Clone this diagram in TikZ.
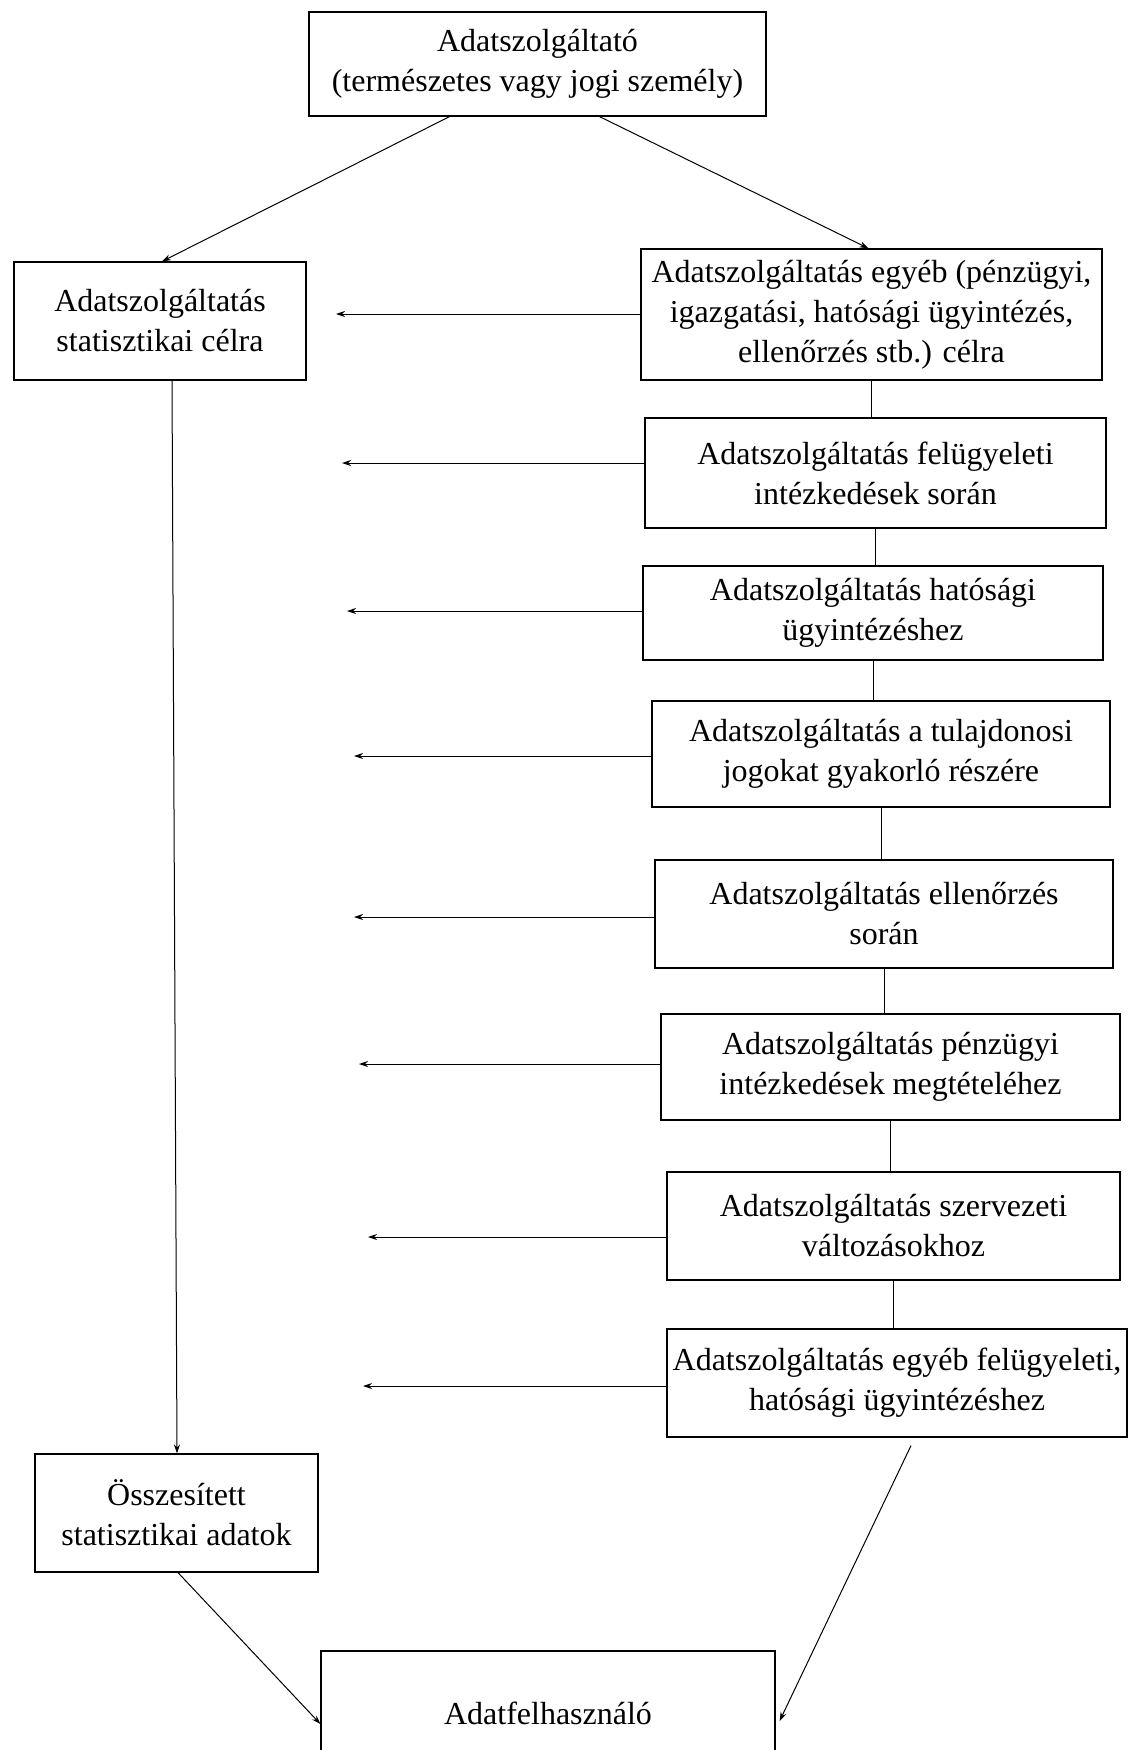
\documentclass[tikz,border=0pt]{standalone}
\usepackage{fontspec}
\setmainfont{Liberation Serif}
\usetikzlibrary{arrows.meta,calc}
\begin{document}
\begin{tikzpicture}[x=1pt,y=-1pt,
  box/.style={draw, line width=1.2pt, align=center, inner sep=0pt, font=\fontsize{32}{40}\selectfont},
  arr/.style={-{Stealth[length=9pt,width=6pt]}, line width=1pt},
  ln/.style={line width=1pt}]
\useasboundingbox[fill=white] (0,0) rectangle (1131,1750);
% nodes
\node[box, minimum width=457pt, minimum height=104pt] (top) at (537.5,64) {Adatszolgáltató\\(természetes vagy jogi személy)};
\node[box, minimum width=292pt, minimum height=118pt] (stat) at (160,321) {Adatszolgáltatás\\statisztikai célra};
\node[box, minimum width=461pt, minimum height=131pt] (b1) at (871.5,314.5) {Adatszolgáltatás egyéb (pénzügyi,\\igazgatási, hatósági ügyintézés,\\ellenőrzés stb.) célra};
\node[box, minimum width=461pt, minimum height=110pt] (b2) at (875.5,473) {Adatszolgáltatás felügyeleti\\intézkedések során};
\node[box, minimum width=460pt, minimum height=94pt] (b3) at (873,613) {Adatszolgáltatás hatósági\\ügyintézéshez};
\node[box, minimum width=458pt, minimum height=106pt] (b4) at (881,754) {Adatszolgáltatás a tulajdonosi\\jogokat gyakorló részére};
\node[box, minimum width=458pt, minimum height=108pt] (b5) at (884,914) {Adatszolgáltatás ellenőrzés\\során};
\node[box, minimum width=459pt, minimum height=106pt] (b6) at (890.5,1067) {Adatszolgáltatás pénzügyi\\intézkedések megtételéhez};
\node[box, minimum width=453pt, minimum height=108pt] (b7) at (893.5,1226) {Adatszolgáltatás szervezeti\\változásokhoz};
\node[box, minimum width=460pt, minimum height=108pt] (b8) at (897,1383) {Adatszolgáltatás egyéb felügyeleti,\\hatósági ügyintézéshez};
\node[box, minimum width=283pt, minimum height=118pt] (ossz) at (176.5,1513) {Összesített\\statisztikai adatok};
\node[box, minimum width=454pt, minimum height=124pt] (user) at (548,1713) {Adatfelhasználó};
% top diagonals
\draw[arr] ([xshift=-88pt]top.south) -- ([xshift=2pt]stat.north);
\draw[arr] ([xshift=62pt]top.south) -- ([xshift=-3pt]b1.north);
% horizontal arrows
\coordinate (t1) at (336,314);
\coordinate (t2) at (342,463);
\coordinate (t3) at (347,611);
\coordinate (t4) at (354,756);
\coordinate (t5) at (354,917);
\coordinate (t6) at (359,1064);
\coordinate (t7) at (368,1237);
\coordinate (t8) at (363,1386);
\foreach \i in {1,...,8}{\draw[arr] (b\i.west |- t\i) -- (t\i);}
% vertical chain
\draw[ln] (b1.south) -- (b1.south |- b2.north);
\draw[ln] (b2.south) -- (b2.south |- b3.north);
\draw[ln] (b3.south) -- (b3.south |- b4.north);
\draw[ln] (b4.south) -- (b4.south |- b5.north);
\draw[ln] (b5.south) -- (b5.south |- b6.north);
\draw[ln] (b6.south) -- (b6.south |- b7.north);
\draw[ln] (b7.south) -- (b7.south |- b8.north);
% left vertical
\draw[arr] ([xshift=12pt]stat.south) -- ([xshift=0.5pt]ossz.north);
% bottom diagonals
\draw[arr] ([xshift=1.5pt]ossz.south) -- ([yshift=-11pt]user.west);
\draw[arr] ([xshift=14pt,yshift=-8pt]b8.south) -- ([xshift=4pt,yshift=-8pt]user.east);
\end{tikzpicture}
\end{document}
